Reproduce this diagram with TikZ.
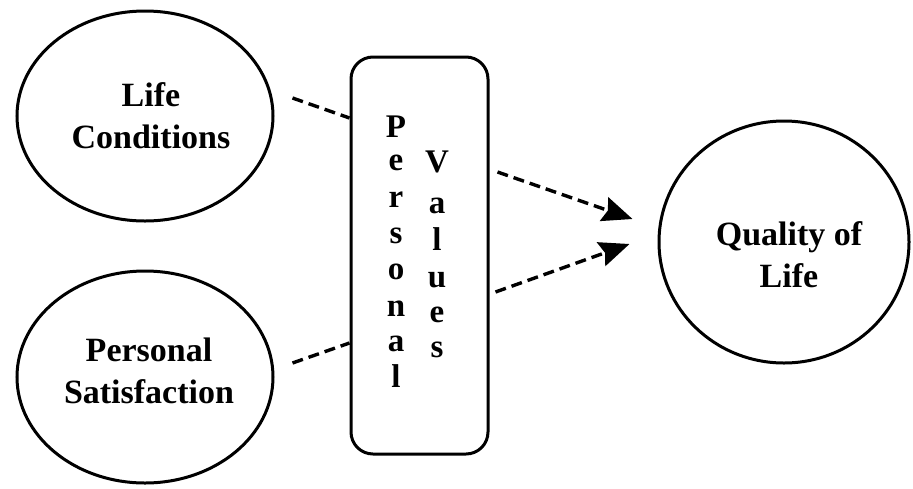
\documentclass[tikz,border=0pt]{standalone}
\usepackage{fontspec}
\setmainfont{Liberation Serif}
\usetikzlibrary{shapes.geometric,arrows.meta}
\begin{document}
\begin{tikzpicture}[x=1pt,y=-1pt,
  outline/.style={draw, line width=3pt, inner sep=0pt},
  lbl/.style={font=\fontsize{34}{41}\selectfont\bfseries, inner sep=0pt, anchor=base},
  ltr/.style={font=\fontsize{33}{36}\selectfont\bfseries, inner sep=0pt, anchor=base},
  link/.style={line width=3.4pt, dash pattern=on 11pt off 6pt},
  flow/.style={link, -{Stealth[length=30pt, width=25pt, inset=4pt]}}]
\useasboundingbox (0,0) rectangle (913,488);

% shapes
\node[outline, ellipse, minimum width=256pt, minimum height=210pt] (lc) at (145,116) {};
\node[outline, ellipse, minimum width=256pt, minimum height=212pt] (ps) at (145,377) {};
\node[outline, ellipse, minimum width=250pt, minimum height=242pt] (ql) at (784,242) {};
\node[outline, rectangle, rounded corners=22pt, minimum width=137pt, minimum height=397pt] (pv) at (419.5,255.5) {};

% labels
\node[lbl] (lc1) at (151,106) {Life};
\node[lbl] (lc2) at (151,148) {Conditions};
\node[lbl] (ps1) at (149,361) {Personal};
\node[lbl] (ps2) at (149,403) {Satisfaction};
\node[lbl] (ql1) at (789,245) {Quality of};
\node[lbl] (ql2) at (789,287) {Life};

% vertical lettering in the box
\foreach \c/\y [count=\i] in {P/137,e/170,r/207,s/243,o/279,n/316,a/351,l/387}
  \node[ltr] (pa\i) at (396,\y) {\c};
\foreach \c/\y [count=\i] in {V/172,a/213,l/250,u/287,e/322,s/357}
  \node[ltr] (va\i) at (437,\y) {\c};

% connectors
\draw[link] ([shift={(18,-18)}]lc.east) -- ([yshift=137.5pt]pv.west);
\draw[link] ([shift={(18,-14)}]ps.east) -- ([yshift=-87.5pt]pv.west);
\draw[flow] ([shift={(8,-83.5)}]pv.east) -- ([shift={(-25,-23)}]ql.west);
\draw[flow] ([shift={(6,36.5)}]pv.east) -- ([shift={(-28,2)}]ql.west);
\end{tikzpicture}
\end{document}
